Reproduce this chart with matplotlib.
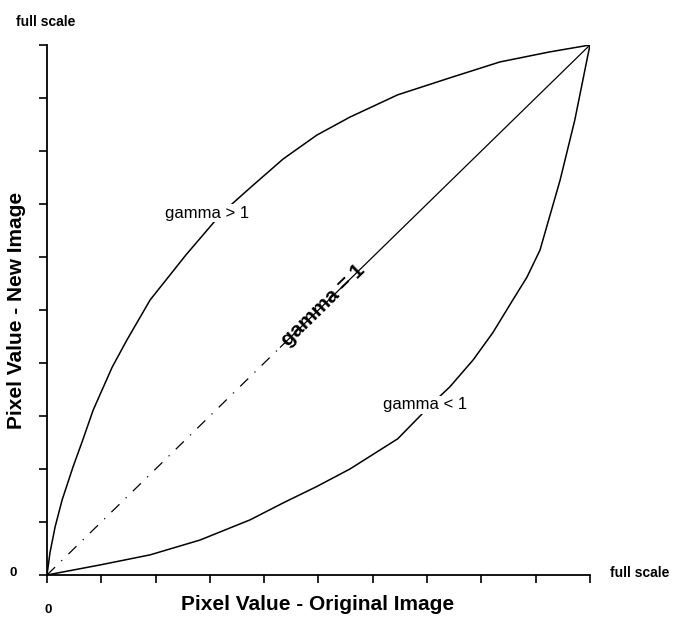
import numpy as np
import matplotlib
matplotlib.use("Agg")
import matplotlib.pyplot as plt

plt.rcParams["font.family"] = ["Liberation Sans", "DejaVu Sans"]

# transfer curves, read as fractions of full scale
UP_X = [0, 0.0055, 0.015, 0.028, 0.048, 0.066, 0.085, 0.120, 0.147, 0.190,
        0.256, 0.322, 0.378, 0.435, 0.497, 0.558, 0.646, 0.742, 0.834,
        0.926, 1.0]
UP_Y = [0, 0.042, 0.091, 0.142, 0.204, 0.255, 0.311, 0.392, 0.443, 0.519,
        0.604, 0.683, 0.734, 0.785, 0.830, 0.864, 0.906, 0.938, 0.968,
        0.987, 1.0]

LO_X = [0, 0.098, 0.190, 0.282, 0.374, 0.435, 0.497, 0.558, 0.646, 0.711,
        0.742, 0.785, 0.821, 0.858, 0.884, 0.908, 0.945, 0.972, 1.0]
LO_Y = [0, 0.019, 0.038, 0.066, 0.104, 0.136, 0.167, 0.200, 0.257, 0.325,
        0.355, 0.406, 0.457, 0.519, 0.562, 0.613, 0.745, 0.858, 1.0]

TICKS = [0, 0.1, 0.2, 0.3, 0.4, 0.5, 0.6, 0.7, 0.8, 0.9, 1.0]
SPLIT = 0.43  # where the linear curve turns from dash-dot to solid

fig = plt.figure(figsize=(6.75, 6.19), dpi=100)
ax = fig.add_axes([0.0696, 0.0711, 0.8044, 0.8562])

ax.plot(UP_X, UP_Y, color="black", linewidth=1.1)
ax.plot(LO_X, LO_Y, color="black", linewidth=1.1)
ax.plot([0, SPLIT], [0, SPLIT], color="black", linewidth=0.9,
        dashes=(9, 7, 1, 7))
ax.plot([SPLIT, 1], [SPLIT, 1], color="black", linewidth=0.9)

ax.set_xlim(0, 1)
ax.set_ylim(0, 1)
ax.set_xticks(TICKS)
ax.set_yticks(TICKS)
ax.set_xticklabels([])
ax.set_yticklabels([])
ax.tick_params(direction="out", length=6, width=1.2, colors="black")
for s in ["top", "right"]:
    ax.spines[s].set_visible(False)
for s in ["left", "bottom"]:
    ax.spines[s].set_linewidth(1.3)

# curve labels
ax.text(0.295, 0.683, "gamma > 1", fontsize=12, ha="center", va="center",
        bbox=dict(facecolor="white", edgecolor="none", pad=1))
ax.text(0.696, 0.321, "gamma < 1", fontsize=12, ha="center", va="center",
        bbox=dict(facecolor="white", edgecolor="none", pad=1))
ax.text(0.508, 0.509, "gamma = 1", fontsize=15, fontweight="bold",
        ha="center", va="center", rotation=44.3, rotation_mode="anchor")

# scale end labels
fig.text(16 / 675, 1 - 22 / 619, "full scale", fontsize=10, fontweight="bold",
         ha="left", va="center")
fig.text(610 / 675, 1 - 573 / 619, "full scale", fontsize=10,
         fontweight="bold", ha="left", va="center")
fig.text(13 / 675, 1 - 573 / 619, "0", fontsize=9.5, fontweight="bold",
         ha="center", va="center")
fig.text(48 / 675, 1 - 610 / 619, "0", fontsize=9.5, fontweight="bold",
         ha="center", va="center")

fig.text(318 / 675, 1 - 605 / 619, "Pixel Value - Original Image",
         fontsize=15, fontweight="bold", ha="center", va="center")
fig.text(17 / 675, 1 - 310 / 619, "Pixel Value - New Image",
         fontsize=15, fontweight="bold", ha="center", va="center",
         rotation=90)

fig.savefig("out.png", dpi=100, facecolor="white")
